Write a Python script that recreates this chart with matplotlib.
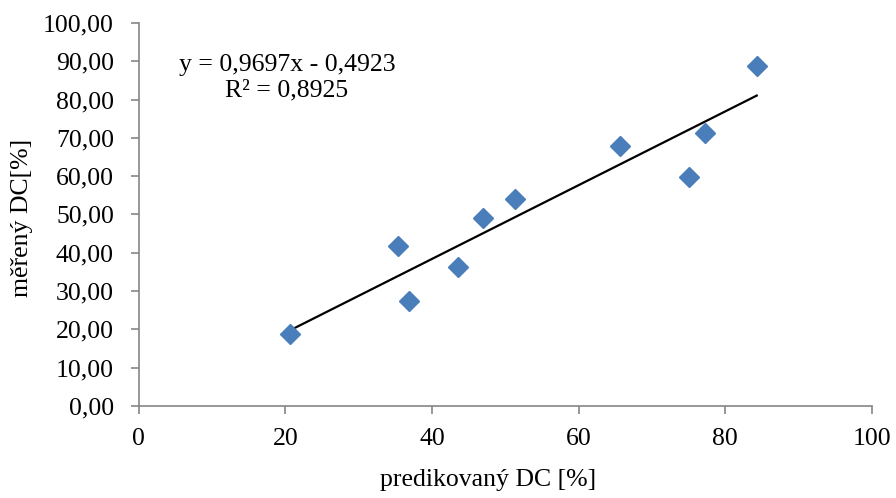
import numpy as np
import matplotlib
matplotlib.use("Agg")
import matplotlib.pyplot as plt
from matplotlib.ticker import FuncFormatter, MultipleLocator

predicted = [20.6, 35.3, 36.8, 43.5, 46.9, 51.3, 65.6, 75.0, 77.2, 84.3]
measured = [18.8, 41.8, 27.4, 36.3, 49.1, 54.0, 67.9, 59.8, 71.3, 88.8]
eq_text = "y = 0,9697x - 0,4923"
r2_text = "R² = 0,8925"
x_label = "predikovaný DC [%]"
y_label = "měřený DC[%]"

plt.rcParams['font.family'] = ['Liberation Serif', 'DejaVu Serif']
FS = 18.5

fig = plt.figure(figsize=(8.96, 4.98), dpi=100)
ax = fig.add_axes([0.155, 0.185, 0.818, 0.769])

x = np.array(predicted)
y = np.array(measured)
slope, intercept = np.polyfit(x, y, 1)
xs = np.array([x.min(), x.max()])
ax.plot(xs, slope * xs + intercept, color='black', lw=1.6, zorder=2)
ax.plot(x, y, linestyle='none', marker='D', markersize=10.5, color='#4A7EBB',
        markeredgecolor='#4A7EBB', zorder=3)

ax.set_xlim(0, 100)
ax.set_ylim(0, 100)
ax.xaxis.set_major_locator(MultipleLocator(20))
ax.yaxis.set_major_locator(MultipleLocator(10))
ax.yaxis.set_major_formatter(FuncFormatter(lambda v, p: f"{v:.2f}".replace('.', ',')))
ax.xaxis.set_major_formatter(FuncFormatter(lambda v, p: f"{v:.0f}"))

for s in ['top', 'right']:
    ax.spines[s].set_visible(False)
for s in ['left', 'bottom']:
    ax.spines[s].set_color('#868686')
    ax.spines[s].set_linewidth(1.2)
ax.tick_params(axis='both', direction='out', length=6, width=1.2, color='#868686',
               labelsize=FS, labelcolor='black')
ax.tick_params(axis='x', pad=10)
ax.tick_params(axis='y', pad=12)

ax.text(0.202, 0.858, eq_text + "\n" + r2_text, transform=ax.transAxes, ha='center',
        va='center', fontsize=FS, linespacing=1.2)

ax.set_xlabel(x_label, fontsize=FS)
ax.set_ylabel(y_label, fontsize=FS)
ax.xaxis.set_label_coords(0.477, -0.164)
ax.yaxis.set_label_coords(-0.144, 0.49)

fig.savefig("out.png", dpi=100)
